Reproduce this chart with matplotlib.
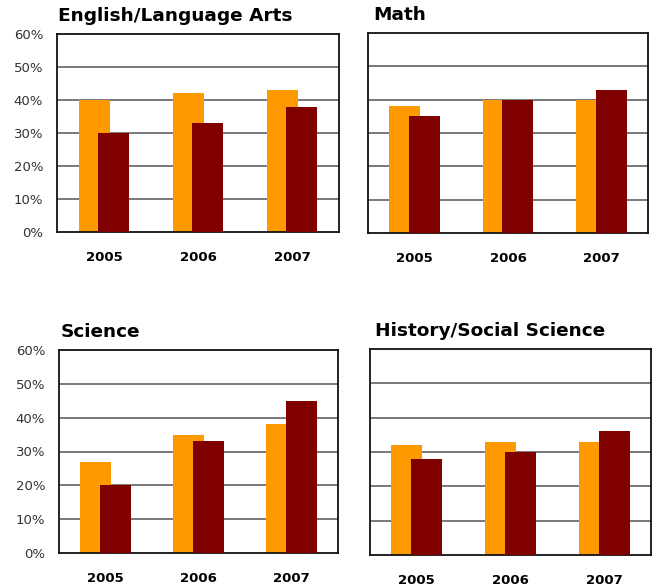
import numpy as np
import matplotlib.pyplot as plt

years = ['2005', '2006', '2007']
subjects = ['English/Language Arts', 'Math', 'Science', 'History/Social Science']
# orange series (first bar) and dark red series (second bar), in percent
orange_vals = [[40, 42, 43], [38, 40, 40], [27, 35, 38], [32, 33, 33]]
dark_vals = [[30, 33, 38], [35, 40, 43], [20, 33, 45], [28, 30, 36]]

W, H = 656, 588
fig = plt.figure(figsize=(W / 100, H / 100), dpi=100)

# axes boxes in pixels: left, top, right, bottom
boxes = [(57, 34, 339, 232), (368, 33, 648, 233),
         (59, 350, 338, 553), (370, 349, 651, 555)]

x = np.arange(len(years))
bw = 0.33
off = 0.106

for i, (l, t, r, b) in enumerate(boxes):
    ax = fig.add_axes([l / W, 1 - b / H, (r - l) / W, (b - t) / H])
    ax.bar(x - off, orange_vals[i], width=bw, color='#ff9900', zorder=2)
    ax.bar(x + off, dark_vals[i], width=bw, color='#800000', zorder=3)
    ax.set_xlim(-0.5, 2.5)
    ax.set_ylim(0, 60)
    ax.set_yticks(range(0, 61, 10))
    for yv in range(10, 60, 10):
        ax.axhline(yv, color='#555555', lw=1.1, zorder=1)
    if i % 2 == 0:
        ax.set_yticklabels([f'{v}%' for v in range(0, 61, 10)],
                           fontsize=9.5, color='#333333')
    else:
        ax.set_yticklabels([])
    ax.tick_params(axis='y', length=0, pad=10)
    ax.set_xticks(x)
    ax.set_xticklabels(years, fontsize=9.5, fontweight='bold')
    ax.tick_params(axis='x', length=0, pad=14)
    for s in ax.spines.values():
        s.set_color('#111111')
        s.set_linewidth(1.3)
    ax.text(0.005 if i % 2 == 0 else 0.018, 1.045, subjects[i],
            transform=ax.transAxes, fontsize=13.3,
            fontweight='heavy', ha='left', va='bottom')

fig.savefig('out.png', dpi=100)
